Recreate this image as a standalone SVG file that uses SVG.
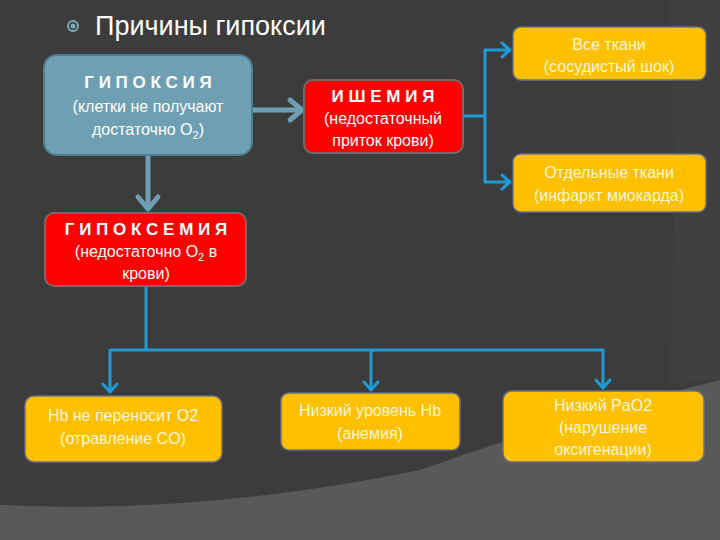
<svg xmlns="http://www.w3.org/2000/svg" width="720" height="540" viewBox="0 0 720 540">
<defs>
<style>
.t{font-family:"Liberation Sans",Arial,sans-serif;fill:#ffffff;text-anchor:middle;font-size:16px}
.h{font-weight:bold;font-size:17px}
.y{fill:#fff6dc}
.yb{fill:#ffc000;stroke:#6b6f86;stroke-width:1.5}
.rb{fill:#ff0000;stroke:#7c6666;stroke-width:2}
.gb{fill:#6e9fb3;stroke:#4f7d90;stroke-width:2}
.bl{fill:none;stroke:#1f9ad6;stroke-width:3}
.ah{fill:none;stroke:#1f9ad6;stroke-width:3;stroke-linecap:round;stroke-linejoin:round}
.gl{fill:none;stroke:#6e9fb3;stroke-width:5}
.gh{fill:none;stroke:#6e9fb3;stroke-width:5;stroke-linecap:round;stroke-linejoin:round}
</style>
</defs>
<rect width="720" height="540" fill="#3c3c3c"/>
<path d="M668,0 L720,0 L720,380 Q690,380 668,386 Q680,200 668,0 Z" fill="#404040"/>
<path d="M0,505 Q200,515 420,470 Q560,420 720,380 L720,540 L0,540 Z" fill="#595959"/>
<g id="title">
<circle cx="73" cy="26" r="5" fill="none" stroke="#7fa9b8" stroke-width="2"/>
<circle cx="73" cy="26" r="2.5" fill="#7fa9b8"/>
<text x="95" y="35" font-family="Liberation Sans,Arial,sans-serif" font-size="27" fill="#ffffff">Причины гипоксии</text>
</g>
<g id="connectors">
<path class="gl" d="M252,110 L298,110"/>
<path class="gh" d="M290,100 L302,110 L290,120"/>
<path class="gl" d="M148,156 L148,206"/>
<path class="gh" d="M138,197 L148,209 L158,197"/>
<path class="bl" d="M463,116 L485,116"/>
<path class="bl" d="M509,50 L485,50 L485,182 L509,182"/>
<path class="ah" d="M502,43 L510,50 L502,57"/>
<path class="ah" d="M502,175 L510,182 L502,189"/>
<path class="bl" d="M146,287 L146,350"/>
<path class="bl" d="M110,350 L603,350"/>
<path class="bl" d="M110,349 L110,391"/>
<path class="ah" d="M103,384 L110,392 L117,384"/>
<path class="bl" d="M371,349 L371,389"/>
<path class="ah" d="M364,382 L371,390 L378,382"/>
<path class="bl" d="M603,349 L603,387"/>
<path class="ah" d="M596,380 L603,388 L610,380"/>
</g>
<g id="hypoxia">
<rect class="gb" x="44" y="55" width="208" height="100" rx="13"/>
<text class="t h" x="148" y="88">Г И П О К С И Я</text>
<text class="t" x="148" y="112">(клетки не получают</text>
<text class="t" x="148" y="135">достаточно O<tspan font-size="11" dy="4">2</tspan><tspan dy="-4">)</tspan></text>
</g>
<g id="ischemia">
<rect class="rb" x="304" y="80" width="159" height="73" rx="9"/>
<text class="t h" x="383" y="102">И Ш Е М И Я</text>
<text class="t" x="383" y="124">(недостаточный</text>
<text class="t" x="383" y="146">приток крови)</text>
</g>
<g id="all-tissues">
<rect class="yb" x="513" y="27" width="193" height="53" rx="8"/>
<text class="t y" x="609" y="50">Все ткани</text>
<text class="t y" x="609" y="72">(сосудистый шок)</text>
</g>
<g id="separate-tissues">
<rect class="yb" x="513" y="154" width="193" height="58" rx="8"/>
<text class="t y" x="609" y="178">Отдельные ткани</text>
<text class="t y" x="609" y="201">(инфаркт миокарда)</text>
</g>
<g id="hypoxemia">
<rect class="rb" x="45" y="213" width="201" height="73" rx="9"/>
<text class="t h" x="146" y="235">Г И П О К С Е М И Я</text>
<text class="t" x="146" y="257">(недостаточно O<tspan font-size="11" dy="4">2</tspan><tspan dy="-4"> в</tspan></text>
<text class="t" x="146" y="279">крови)</text>
</g>
<g id="hb-co">
<rect class="yb" x="25" y="396" width="197" height="66" rx="9"/>
<text class="t y" x="123" y="421">Hb не переносит O2</text>
<text class="t y" x="123" y="444">(отравление CO)</text>
</g>
<g id="low-hb">
<rect class="yb" x="281" y="393" width="179" height="57" rx="8"/>
<text class="t y" x="370" y="416">Низкий уровень Hb</text>
<text class="t y" x="370" y="439">(анемия)</text>
</g>
<g id="low-pao2">
<rect class="yb" x="503" y="391" width="201" height="71" rx="9"/>
<text class="t y" x="603" y="411">Низкий PaO2</text>
<text class="t y" x="603" y="433">(нарушение</text>
<text class="t y" x="603" y="455">оксигенации)</text>
</g>
</svg>
